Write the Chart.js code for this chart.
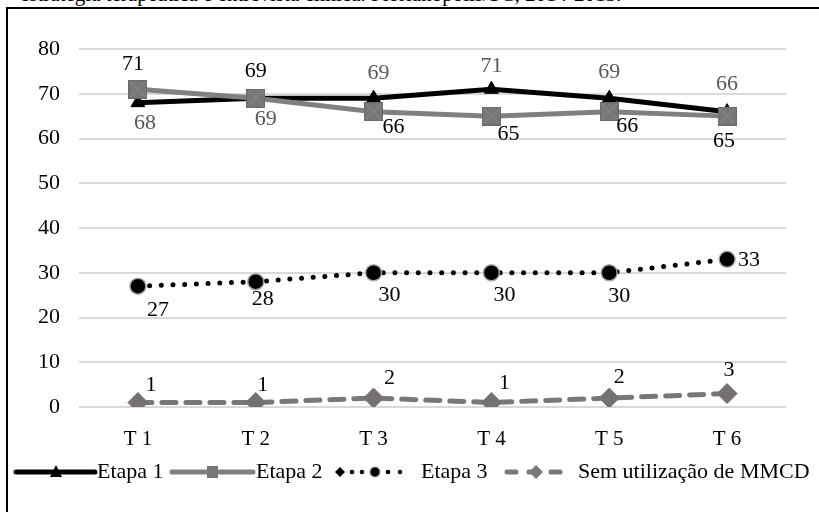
<!DOCTYPE html>
<html>
<head>
<meta charset="utf-8">
<script src="https://cdn.jsdelivr.net/npm/chart.js@4/dist/chart.umd.min.js"></script>
<style>
  html, body { margin: 0; padding: 0; background: #fff; }
  #wrap { position: relative; width: 819px; height: 512px; overflow: hidden; background: #fff; }
  #cap { position: absolute; left: 20px; top: -18px; font-family: "Liberation Serif", serif; font-size: 21px; color: #000; white-space: nowrap; }
  #frame { position: absolute; left: 6px; top: 7px; width: 900px; height: 600px; border-left: 2px solid #000; border-top: 2px solid #000; box-sizing: border-box; }
  #c { position: absolute; left: 0; top: 0; }
</style>
</head>
<body>
<div id="wrap">
  <div id="cap">estratégia terapêutica e entrevista clínica. Florianópolis/SC, 2014-2015.</div>
  <div id="frame"></div>
  <canvas id="c" width="819" height="512"></canvas>
</div>
<script>
// ---- data ----
const categories = ["T 1", "T 2", "T 3", "T 4", "T 5", "T 6"];
const etapa1 = [68, 69, 69, 71, 69, 66];
const etapa2 = [71, 69, 66, 65, 66, 65];
const etapa3 = [27, 28, 30, 30, 30, 33];
const semMMCD = [1, 1, 2, 1, 2, 3];
const seriesNames = ["Etapa 1", "Etapa 2", "Etapa 3", "Sem utilização de MMCD"];
const yTicks = [0, 10, 20, 30, 40, 50, 60, 70, 80];

// ---- label placement (style only) ----
const labelOffsets = [
  [[7,21],[10,21],[5,-25],[0,-23],[0,-26],[0,-27]],
  [[-5,-25],[0,-27],[20,16],[17,18],[18,15],[-3,25]],
  [[20,24],[7,18],[16,22],[13,22],[10,23],[22,1]],
  [[13,-17],[7,-17],[16,-20],[13,-19],[10,-21],[2,-23]]
];
const labelColors = ["#595959", "#000000", "#000000", "#000000"];
const FONT = '"Liberation Serif", "Times New Roman", serif';

function squareX(size) {
  const c = document.createElement('canvas');
  c.width = size; c.height = size;
  const g = c.getContext('2d');
  g.fillStyle = '#777777';
  g.fillRect(0, 0, size, size);
  g.strokeStyle = '#8e8e8e';
  g.lineWidth = 1;
  g.beginPath();
  g.moveTo(2, 2); g.lineTo(size - 2, size - 2);
  g.moveTo(size - 2, 2); g.lineTo(2, size - 2);
  g.stroke();
  g.strokeStyle = '#6a6a6a';
  g.strokeRect(0.5, 0.5, size - 1, size - 1);
  return c;
}
const sqBig = squareX(19);

const labelPlugin = {
  id: 'valLabels',
  afterDatasetsDraw(chart) {
    const ctx = chart.ctx;
    ctx.save();
    ctx.font = '22px ' + FONT;
    ctx.textAlign = 'center';
    ctx.textBaseline = 'middle';
    chart.data.datasets.forEach((ds, i) => {
      const meta = chart.getDatasetMeta(i);
      ctx.fillStyle = labelColors[i];
      meta.data.forEach((pt, j) => {
        const o = labelOffsets[i][j];
        ctx.fillText(String(ds.data[j]), pt.x + o[0], pt.y + o[1]);
      });
    });
    ctx.restore();
  }
};

const legendPlugin = {
  id: 'customLegend',
  afterDraw(chart) {
    const ctx = chart.ctx;
    const y = 472;
    ctx.save();
    ctx.lineCap = 'round';
    // Etapa 1
    ctx.strokeStyle = '#000'; ctx.lineWidth = 5;
    ctx.beginPath(); ctx.moveTo(16, y); ctx.lineTo(95, y); ctx.stroke();
    ctx.fillStyle = '#000';
    ctx.beginPath(); ctx.moveTo(56, y - 7); ctx.lineTo(62, y + 5); ctx.lineTo(50, y + 5); ctx.closePath(); ctx.fill();
    // Etapa 2
    ctx.strokeStyle = '#808080';
    ctx.beginPath(); ctx.moveTo(172, y); ctx.lineTo(253, y); ctx.stroke();
    ctx.fillStyle = '#777';
    ctx.fillRect(207, y - 6, 11, 12);
    // Etapa 3
    ctx.fillStyle = '#000';
    ctx.beginPath(); ctx.moveTo(340, y - 5); ctx.lineTo(345, y); ctx.lineTo(340, y + 5); ctx.lineTo(335, y); ctx.closePath(); ctx.fill();
    [352, 362, 388, 400].forEach(x => { ctx.beginPath(); ctx.arc(x, y, 2.3, 0, Math.PI * 2); ctx.fill(); });
    ctx.beginPath(); ctx.arc(375, y, 5, 0, Math.PI * 2); ctx.fill();
    ctx.strokeStyle = '#999'; ctx.lineWidth = 1; ctx.stroke();
    // Sem
    ctx.strokeStyle = '#7a7777'; ctx.lineWidth = 5;
    ctx.setLineDash([9, 13]);
    ctx.beginPath(); ctx.moveTo(507, y); ctx.lineTo(570, y); ctx.stroke();
    ctx.setLineDash([]);
    ctx.fillStyle = '#7a7777';
    ctx.beginPath(); ctx.moveTo(536, y - 7); ctx.lineTo(543, y); ctx.lineTo(536, y + 7); ctx.lineTo(529, y); ctx.closePath(); ctx.fill();
    // texts
    ctx.fillStyle = '#000';
    ctx.font = '22px ' + FONT;
    ctx.textAlign = 'left';
    ctx.textBaseline = 'middle';
    ctx.fillText(seriesNames[0], 97, y);
    ctx.fillText(seriesNames[1], 256, y);
    ctx.fillText(seriesNames[2], 421, y);
    ctx.fillText(seriesNames[3], 578, y);
    ctx.restore();
  }
};

new Chart(document.getElementById('c'), {
  type: 'line',
  data: {
    labels: categories,
    datasets: [
      { label: seriesNames[0], data: etapa1, borderColor: '#000', backgroundColor: '#000', borderWidth: 5,
        pointStyle: 'triangle', pointRadius: 8, pointBackgroundColor: '#000', pointBorderColor: '#000', pointBorderWidth: 1, order: 1 },
      { label: seriesNames[1], data: etapa2, borderColor: '#808080', backgroundColor: '#777', borderWidth: 5,
        pointStyle: sqBig, pointRadius: 9, order: 0 },
      { label: seriesNames[2], data: etapa3, borderColor: '#000', backgroundColor: '#000', borderWidth: 5,
        borderDash: [0, 11.7], borderCapStyle: 'round',
        pointStyle: 'circle', pointRadius: 8, pointBackgroundColor: '#000', pointBorderColor: '#a6a6a6', pointBorderWidth: 1.5, order: 2 },
      { label: seriesNames[3], data: semMMCD, borderColor: '#7a7777', backgroundColor: '#7a7777', borderWidth: 5,
        borderDash: [14, 10], borderCapStyle: 'round',
        pointStyle: 'rectRot', pointRadius: 10, pointBackgroundColor: '#767171', pointBorderColor: '#767171', pointBorderWidth: 1, order: 3 }
    ]
  },
  options: {
    responsive: false,
    animation: false,
    devicePixelRatio: 1,
    layout: { padding: { left: 0, right: 33, top: 49, bottom: 55 } },
    plugins: { legend: { display: false }, tooltip: { enabled: false } },
    elements: { line: { tension: 0 } },
    scales: {
      x: {
        offset: true,
        grid: { display: false, drawTicks: false },
        border: { display: false },
        ticks: { color: '#000', font: { family: FONT, size: 21 }, padding: 20 },
        afterFit(s) { s.height = 50; }
      },
      y: {
        min: 0, max: 80,
        afterBuildTicks(s) { s.ticks = yTicks.map(v => ({ value: v })); },
        grid: { color: '#d9d9d9', lineWidth: 2, drawTicks: false },
        border: { display: false },
        ticks: { color: '#000', font: { family: FONT, size: 22 }, padding: 19 },
        afterFit(s) { s.width = 79; }
      }
    }
  },
  plugins: [labelPlugin, legendPlugin]
});
</script>
</body>
</html>
